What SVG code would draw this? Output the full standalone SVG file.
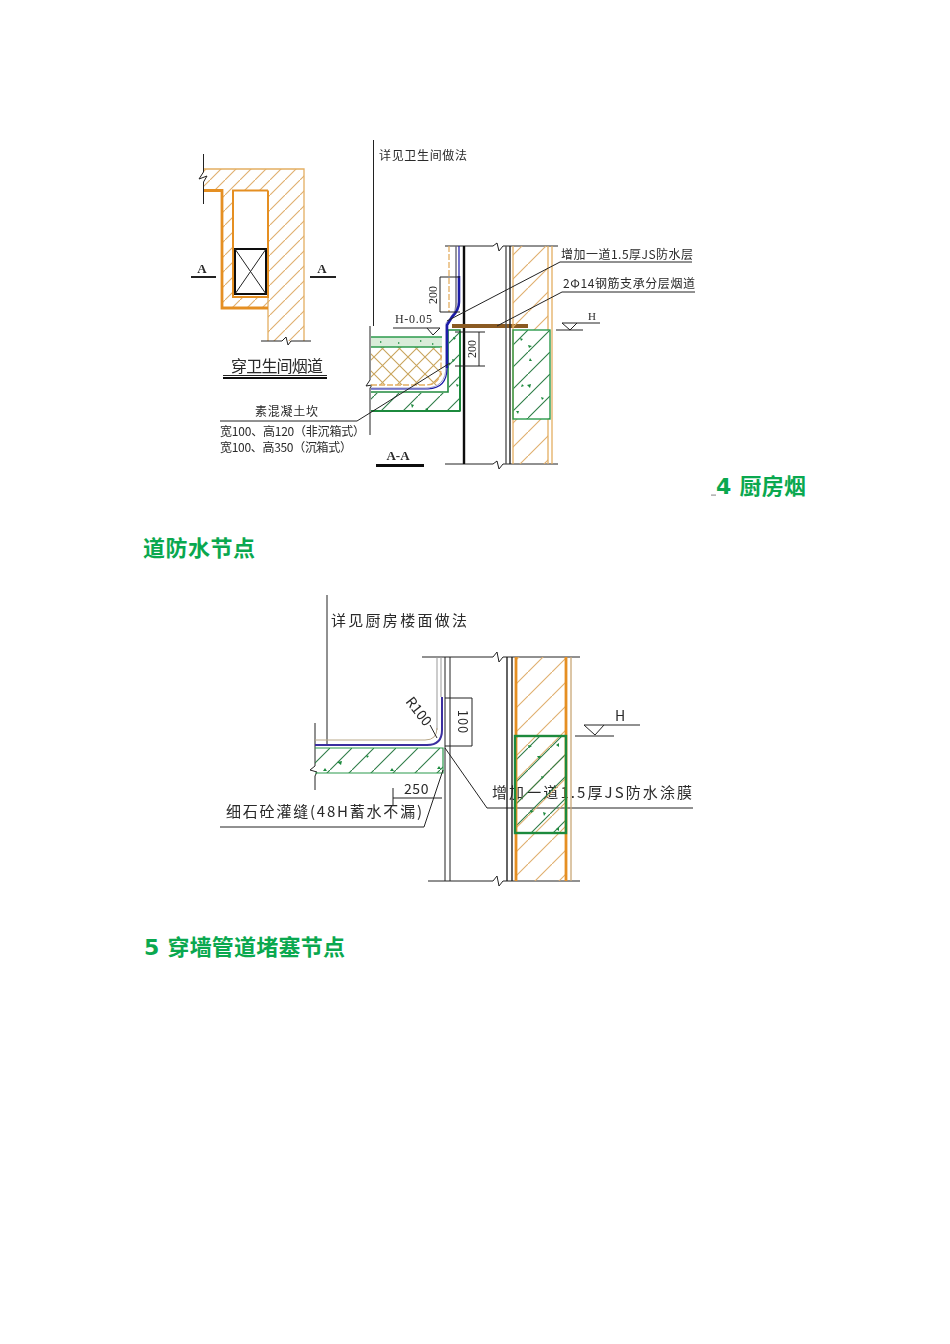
<svg xmlns="http://www.w3.org/2000/svg" width="950" height="1344" viewBox="0 0 950 1344">
<style>
text{font-family:"Noto Sans CJK SC","Liberation Sans",sans-serif;fill:#2a2a2a}
.t{font-size:12px}.m{font-size:15px}
.ti{font-family:"DejaVu Sans","Noto Sans CJK SC",sans-serif;font-weight:700;font-size:22px;fill:#0aa84f}
.s{font-family:"Liberation Serif","Noto Sans CJK SC",serif}
.k{fill:none;stroke:#222;stroke-width:1}
.kb{fill:none;stroke:#111;stroke-width:2.4}
.g{fill:none;stroke:#555;stroke-width:1}
.o{fill:none;stroke:#e4ae62;stroke-width:1.3}
.ob{fill:none;stroke:#e58f24;stroke-width:2.8}
.gr{fill:none;stroke:#1f8a3e;stroke-width:2}
.grt{fill:none;stroke:#2b9a4c;stroke-width:1}
.b{fill:none;stroke:#1a1aa8;stroke-width:2.6}
.d{fill:#1f8a3e}
</style>
<defs>
<pattern id="ho" patternUnits="userSpaceOnUse" width="15" height="15"><path d="M-1 16L16 -1" stroke="#dfae6c" stroke-width="1.100"/></pattern>
<pattern id="hw" patternUnits="userSpaceOnUse" width="24" height="24"><path d="M-1 25L25 -1" stroke="#dfae6c" stroke-width="1.100"/></pattern>
<pattern id="hg" patternUnits="userSpaceOnUse" width="22" height="22"><path d="M-1 23L23 -1" stroke="#2a7c44" stroke-width="1.100"/></pattern>
<pattern id="hc" patternUnits="userSpaceOnUse" width="17" height="17"><path d="M0 0L17 17M17 0L0 17" stroke="#c9a45c" stroke-width="1.100"/></pattern>
<filter id="soft"><feGaussianBlur stdDeviation="0.35"/></filter>
</defs>
<rect width="950" height="1344" fill="#fff"/>
<g id="flue-plan" filter="url(#soft)">
<path d="M203 169H304V341H268V308H222V190.500H203Z" fill="url(#ho)"/>
<rect x="233" y="190.500" width="35" height="106" fill="#fff"/>
<path class="o" d="M203 169H304V341M268 341V297"/>
<path class="ob" d="M203 190.500H222V308H268"/>
<path class="ob" d="M268 190.500H233V297H268V190.500" style="stroke-width:2"/>
<rect class="kb" x="235" y="249" width="31" height="45" style="stroke-width:2"/>
<path class="k" d="M235 249L266 294M266 249L235 294"/>
<path class="k" d="M203.500 154V172L199 179L207 176L203.500 182V204M261 341H282L286 337L288 345L291 341H311"/>
<path d="M191 277H216M310 277H336" stroke="#222" stroke-width="1.800"/>
<text class="s" x="202" y="273" font-size="13" font-weight="700" text-anchor="middle">A</text>
<text class="s" x="322" y="273" font-size="13" font-weight="700" text-anchor="middle">A</text>
<text class="m" x="231" y="372" style="font-size:16px" textLength="92" lengthAdjust="spacing">穿卫生间烟道</text>
<path d="M223 375.500H327" stroke="#222" stroke-width="1"/><path d="M223 378H327" stroke="#111" stroke-width="2"/>
</g>
<g id="flue-section" filter="url(#soft)">
<path class="k" d="M373.500 140V326M370 326V380L366 386L372 385L370 388V435"/>
<text class="t" x="379" y="160" textLength="88" lengthAdjust="spacing">详见卫生间做法</text>
<path class="k" d="M445 246H493L497 243L499 251L503 246H558M445 464H493L497 461L499 469L503 464H558"/>
<rect x="371" y="337" width="71" height="10" fill="#d9ecd9"/>
<rect x="371" y="347" width="71" height="38" fill="url(#hc)"/>
<path d="M371 393H449V330H460V411H371Z" fill="url(#hg)"/>
<path d="M371 337H442M371 347H442" class="grt" style="stroke-width:1.600"/>
<path class="gr" d="M371 411H460V330H448V392H371" style="stroke-width:1.600"/>
<path d="M460 411H371M460 411V331" class="gr"/>
<path class="o" d="M449 246V312M371 385H425Q441 385 441 368V347" stroke-dasharray="6 2"/>
<path d="M456 246V304Q456 312 450 318L446 323V366Q446 388 425 388H371" fill="none" stroke="#8888bb" stroke-width="0.800"/>
<path class="g" d="M456 246V310"/>
<path class="b" d="M459 276V302Q459 310 452 317L447 325V368"/>
<path d="M459 246V276" stroke="#1a1aa8" stroke-width="1.200" fill="none"/>
<path d="M447 368Q447 388 428 389H371" fill="none" stroke="#1a1aa8" stroke-width="1.200"/>
<path class="kb" d="M464 246V464"/>
<rect x="452" y="324" width="76" height="4" fill="#8a5a20"/>
<path class="g" d="M506 246V464" style="stroke-width:1.400"/><path class="k" d="M510 246V464" style="stroke-width:1.400"/>
<rect x="513" y="246" width="35" height="218" fill="url(#hw)"/>
<rect x="513" y="330" width="37" height="89" fill="#fff"/><rect x="513" y="330" width="37" height="89" fill="url(#hg)"/>
<path class="o" d="M513 246V464M548 246V330M548 419V464M552 246V464"/>
<rect class="grt" x="513" y="330" width="37" height="89" style="stroke-width:1.400"/>
<path class="d" d="M520 338l3 1-2 2zM528 345l4 1-3 2zM530 358l2 3-3 0zM527 385l4-1-1 4zM541 397l3 1-2 2zM516 411l3 0-1 3zM522 384l2 2-3 1zM453 337l3 1-2 2zM452 359l3 1-2 2zM456 384l3 1-2 2zM411 404l3 1-2 3zM425 409l3-1 0 3zM380 341l2 1-2 1zM398 342l2 1-2 1zM432 343l2 1-2 1zM420 340l2 1-2 1z"/>
<path class="k" d="M440 277H460M440 312H460M440 277V312M455 332H485M455 366H485M479 332V366"/>
<text class="s" x="437" y="295" font-size="12" text-anchor="middle" transform="rotate(-90 437 295)">200</text>
<text class="s" x="476" y="349" font-size="12" text-anchor="middle" transform="rotate(-90 476 349)">200</text>
<text class="s" x="395" y="323" font-size="12" textLength="37">H-0.05</text>
<path class="k" d="M393 328H440M427 328L433 335L440 328"/>
<path class="k" d="M220 421H357L450 363M692 262H560L447 321M497 326L562 292H695"/>
<text class="t" x="561" y="259" textLength="132" lengthAdjust="spacing">增加一道1.5厚JS防水层</text>
<text class="t" x="563" y="288" textLength="132" lengthAdjust="spacing">2Φ14钢筋支承分层烟道</text>
<path class="k" d="M562 323H600M562 323L570 330L577 323M556 330H583"/>
<text class="s" x="588" y="320" font-size="11">H</text>
<text class="t" x="255" y="416" textLength="63" lengthAdjust="spacing">素混凝土坎</text>
<text class="t" x="220" y="436" textLength="145" lengthAdjust="spacing">宽100、高120（非沉箱式）</text>
<text class="t" x="220" y="452" textLength="132" lengthAdjust="spacing">宽100、高350（沉箱式）</text>
<text class="s" x="398" y="460" font-size="13" font-weight="700" text-anchor="middle">A-A</text>
<path d="M376 465.500H424" stroke="#111" stroke-width="3"/>
</g>
<g id="kitchen-section" filter="url(#soft)">
<path class="k" d="M327 595V745"/>
<text class="m" x="331" y="626" textLength="136" lengthAdjust="spacing">详见厨房楼面做法</text>
<path class="k" d="M422 657H493L497 652L499 662L503 657H580M428 881H493L497 876L499 886L503 881H580"/>
<path class="k" d="M445 657V881M450 657V881M315 723V766L310 770L317 772L315 776V790"/>
<path class="g" d="M437 657V730M441 657V697" style="stroke:#999"/>
<rect x="315" y="748" width="128" height="25" fill="url(#hg)"/>
<path class="grt" d="M315 748H443V773H315" style="stroke-width:1.200"/>
<path class="d" d="M337 762l5-1-1 4zM366 755l3 1-2 2zM323 771l4 0-2-3zM390 771l4 0-2-3zM437 769l4 0-2-3z"/>
<path d="M315 740H425Q437 740 437 728" fill="none" stroke="#b9a88a" stroke-width="1"/>
<path d="M442 697V730Q442 745 427 745H315" fill="none" stroke="#3a2f9f" stroke-width="2"/>
<path class="k" d="M430 725L437 738"/>
<text x="418" y="716" font-family="Liberation Sans" font-size="14" text-anchor="middle" transform="rotate(52 418 712)">R100</text>
<path class="k" d="M445 698H472M445 746H472M472 698V746"/>
<text x="458" y="722" font-family="Liberation Sans" font-size="13" letter-spacing="1" text-anchor="middle" transform="rotate(90 458 722)">100</text>
<path class="k" d="M393 788V805M393 798H442"/>
<text x="404" y="794" font-family="Liberation Sans" font-size="14" style="letter-spacing:.6px">250</text>
<text class="m" x="226" y="817" textLength="196" lengthAdjust="spacing">细石砼灌缝(48H蓄水不漏)</text>
<path class="k" d="M220 827H424L443 770"/>
<path class="k" d="M445 748L487 808H693"/>
<text class="m" x="492" y="798" textLength="200" lengthAdjust="spacing">增加一道1.5厚JS防水涂膜</text>
<path class="k" d="M507 657V881M512 657V881" style="stroke-width:1.400"/>
<rect x="516" y="657" width="50" height="224" fill="url(#hw)"/>
<rect x="516" y="736" width="50" height="97" fill="url(#hg)"/>
<path class="d" d="M528 745l4 1-3 2zM537 756l4 0-2 3zM541 776l3 1-2 2zM530 810l4 1-3 2zM543 812l3 1-2 3zM556 745l3-2 0 4zM556 829l3-2 0 4z"/>
<path class="ob" d="M516 657V881M566 657V881"/>
<path class="o" d="M571 657V881" style="stroke:#c9a878"/>
<rect class="gr" x="515" y="736" width="51" height="97" style="stroke-width:2.400"/>
<path class="k" d="M584 725H640M584 725L595 735L604 725M575 736H614"/>
<text x="620" y="721" font-family="Liberation Sans" font-size="14" text-anchor="middle">H</text>
</g>
<g id="headings">
<rect x="711" y="494.500" width="5" height="1.200" fill="#999"/>
<text class="ti" x="716" y="494" textLength="90" lengthAdjust="spacing">4 厨房烟</text>
<text class="ti" x="143" y="556" textLength="112" lengthAdjust="spacing">道防水节点</text>
<text class="ti" x="144" y="955" textLength="201" lengthAdjust="spacing">5 穿墙管道堵塞节点</text>
</g>
</svg>
